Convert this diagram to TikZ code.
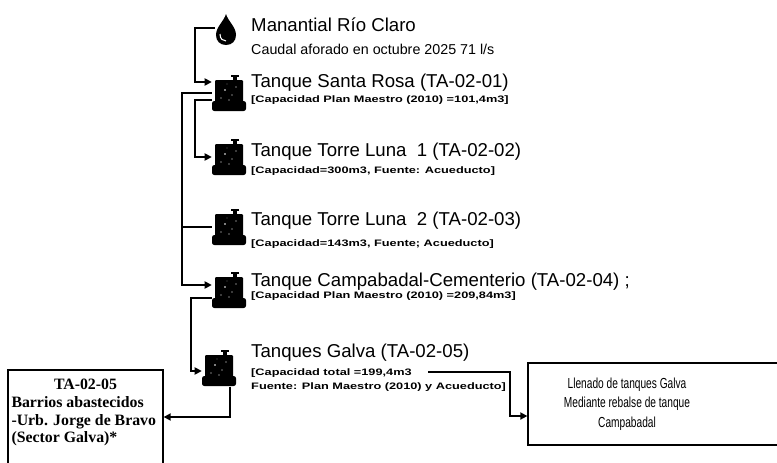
\documentclass[tikz,border=0pt]{standalone}
\usepackage{fontspec}
\setmainfont{Liberation Sans}
\newfontfamily\datofont[FakeStretch=1.36]{Liberation Sans}
\newfontfamily\cajafont[FakeStretch=0.7]{Liberation Sans}
\newfontfamily\serifcaja{Liberation Serif}
\usetikzlibrary{arrows.meta,calc}

\begin{document}
\begin{tikzpicture}[x=0.03cm, y=-0.03cm,
    titulo/.style={anchor=west, inner sep=0pt, font=\fontsize{15.9}{17}\selectfont},
    dato/.style={anchor=west, inner sep=0pt, font=\datofont\bfseries\fontsize{8}{9}\selectfont},
    linea/.style={line width=1.4pt},
    flecha/.style={linea, -{Triangle[length=6pt,width=6pt]}},
    tanque/.style={minimum width=1.02cm, minimum height=1.1cm, inner sep=0pt, fill=white,
        path picture={
            \begin{scope}[shift={(path picture bounding box.center)}]
                \fill[black, rounded corners=2pt] (-17,8) rectangle (17,18);
                \fill[black, rounded corners=1pt] (-14,-13) rectangle (14,11);
                \fill[black] (4,-18) rectangle (8,-12);
                \fill[black] (2,-18) rectangle (10,-16);
                \fill[white] (-4,-3) circle (0.7pt) (3,2) circle (0.5pt) (-8,5) circle (0.5pt) (7,-6) circle (0.5pt) (0,7) circle (0.5pt) (-2,-9) circle (0.4pt);
            \end{scope}}},
    gota/.style={minimum width=0.66cm, minimum height=0.96cm, inner sep=0pt, fill=white,
        path picture={
            \begin{scope}[shift={(path picture bounding box.center)}]
                \fill[black] (0,-16) .. controls (2,-9) and (10,-3) .. (10,5) .. controls (10,11) and (6,15) .. (0,15)
                    .. controls (-6,15) and (-10,11) .. (-10,5) .. controls (-10,-3) and (-2,-9) .. (0,-16) -- cycle;
                \draw[white, line width=0.9pt] (-6,4) .. controls (-6,9) and (-3,11) .. (0,11);
            \end{scope}}},
    caja/.style={draw, line width=1.1pt, inner sep=0pt}]
    \useasboundingbox (0,0) rectangle (777,462);

    \node[gota] (gota) at (226,30) {};
    \node[titulo] (manantial) at (251,25) {Manantial Río Claro};
    \node[anchor=west, inner sep=0pt, font=\fontsize{12.2}{14}\selectfont] (caudal) at (251,49) {Caudal aforado en octubre 2025 71 l/s};

    \node[tanque] (tsr) at (229,93) {};
    \node[titulo] (nsr) at (251,83) {Tanque Santa Rosa (TA-02-01)};
    \node[dato] (dsr) at (251,100) {[Capacidad Plan Maestro (2010) =101,4m3]};

    \node[tanque] (ttl1) at (229,157) {};
    \node[titulo] (ntl1) at (251,152) {Tanque Torre Luna~ 1 (TA-02-02)};
    \node[dato] (dtl1) at (251,171) {[Capacidad=300m3, Fuente: Acueducto]};

    \node[tanque] (ttl2) at (229,227) {};
    \node[titulo] (ntl2) at (251,221) {Tanque Torre Luna~ 2 (TA-02-03)};
    \node[dato] (dtl2) at (251,244) {[Capacidad=143m3, Fuente; Acueducto]};

    \node[tanque] (tcc) at (229,290) {};
    \node[titulo] (ncc) at (251,282) {Tanque Campabadal-Cementerio (TA-02-04) ;};
    \node[dato] (dcc) at (251,296) {[Capacidad Plan Maestro (2010) =209,84m3]};

    \node[tanque] (tg) at (219,368) {};
    \node[titulo] (ng) at (251,353) {Tanques Galva (TA-02-05)};
    \node[dato] (dg1) at (251,373) {[Capacidad total =199,4m3};
    \node[dato] (dg2) at (251,387) {Fuente: Plan Maestro (2010) y Acueducto]};

    \node[caja] (barrios) at (85.5,417) {\parbox[c][2.82cm][t]{4.65cm}{\serifcaja\bfseries\fontsize{13.5}{15}\selectfont
        \vspace*{8pt}{\centering TA-02-05\par}
        \raggedright\leftskip=3pt Barrios abastecidos\\ -Urb. Jorge de Bravo\\ (Sector Galva)*}};
    \node[caja, minimum width=7.86cm, minimum height=2.46cm] (llenado) at (659,404) {\makebox[7.86cm][l]{\parbox{5.94cm}{\centering\cajafont\fontsize{12.4}{16.5}\selectfont
        Llenado de tanques Galva\\ Mediante rebalse de tanque\\ Campabadal}}};
    \coordinate (rebalse) at (428,372);

    \draw[flecha] ($(gota.west)+(0,-2)$) -- ++(-20,0) |- ($(tsr.west)+(0,-11)$);
    \draw[flecha] (tsr.west) -- ++(-30,0) |- ($(tcc.west)+(0,-5)$);
    \draw[linea] (ttl2.west) -- ++(-30,0);
    \draw[flecha] ($(tsr.west)+(0,7)$) -- ++(-17,0) |- (ttl1.west);
    \draw[flecha] ($(tcc.west)+(0,8)$) -- ++(-21,0) |- ($(tg.west)+(0,3)$);
    \draw[flecha] ($(tg.south)+(11,0)$) |- (barrios.east);
    \draw[flecha] (rebalse) -- ++(82,0) |- ($(llenado.west)+(0,12)$);
\end{tikzpicture}
\end{document}
